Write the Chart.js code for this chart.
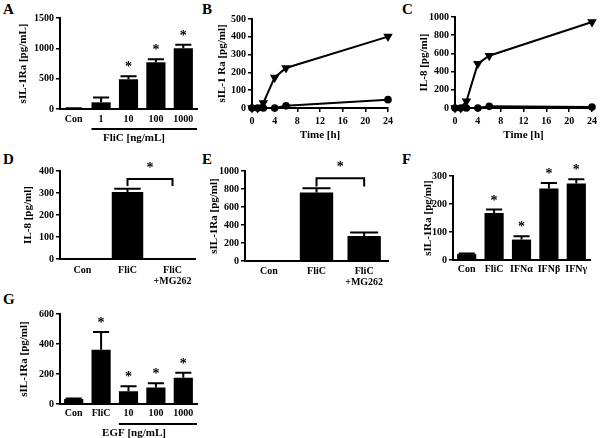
<!DOCTYPE html>
<html>
<head>
<meta charset="utf-8">
<script src="https://cdn.jsdelivr.net/npm/chart.js@4.4.0/dist/chart.umd.min.js"></script>
<style>
    body { margin: 0; background: #fff; }
    #wrap { position: relative; width: 600px; height: 438px; overflow: hidden; }
    #wrap canvas { position: absolute; left: 0; top: 0; }
    .tag { position: absolute; font: bold 15px 'Liberation Serif', serif; line-height: 1; color: #000; }
</style>
</head>
<body>
<div id="wrap">
    <div class="tag" style="left:3px;top:2px">A</div>
    <div class="tag" style="left:202px;top:2px">B</div>
    <div class="tag" style="left:402px;top:2px">C</div>
    <div class="tag" style="left:3px;top:152px">D</div>
    <div class="tag" style="left:202px;top:152px">E</div>
    <div class="tag" style="left:402px;top:152px">F</div>
    <div class="tag" style="left:3px;top:292px">G</div>
    <canvas id="cA" width="600" height="438"></canvas>
    <canvas id="cB" width="600" height="438"></canvas>
    <canvas id="cC" width="600" height="438"></canvas>
    <canvas id="cD" width="600" height="438"></canvas>
    <canvas id="cE" width="600" height="438"></canvas>
    <canvas id="cF" width="600" height="438"></canvas>
    <canvas id="cG" width="600" height="438"></canvas>
</div>
<script>
// Panel A - FliC dose response
const catA = ['Con', '1', '10', '100', '1000'];
const meanA = [10, 110, 490, 770, 1000];
const errA = [3, 80, 50, 50, 60];
const starA = [0, 0, 1, 1, 1];

// Panel B / C - time course
const timeB = [0, 1, 2, 4, 6, 24];
const flicB = [0, 0, 28, 172, 225, 401];
const conB = [0, 0, 0, 0, 12, 47];
const timeC = [0, 1, 2, 4, 6, 24];
const flicC = [0, 0, 75, 487, 575, 945];
const conC = [0, 0, 0, 0, 18, 11];

// Panel D / E - proteasome inhibitor
const catD = ['Con', 'FliC', ['FliC', '+MG262']];
const meanD = [0, 305, 5];
const errD = [0, 14, 0];
const meanE = [0, 760, 278];
const errE = [0, 48, 40];

// Panel F - interferons
const catF = ['Con', 'FliC', 'IFN\u03B1', 'IFN\u03B2', 'IFN\u03B3'];
const meanF = [21, 168, 73, 255, 273];
const errF = [2, 12, 12, 20, 15];
const starF = [0, 1, 1, 1, 1];

// Panel G - EGF
const catG = ['Con', 'FliC', '10', '100', '1000'];
const meanG = [33, 362, 85, 110, 175];
const errG = [3, 118, 33, 28, 33];
const starG = [0, 1, 1, 1, 1];

const FONT = "'Liberation Serif', 'Times New Roman', serif";
const W = 600, H = 438;
const tickFont = { family: FONT, weight: 'bold', size: 10 };
const titleFont = { family: FONT, weight: 'bold', size: 11 };
const HALF_TITLE = 6.6;

function drawStar(ctx, x, capY) {
    ctx.font = 'bold 14px ' + FONT;
    ctx.textAlign = 'center';
    ctx.textBaseline = 'alphabetic';
    ctx.fillText('*', x, capY + 1);
}

// error bars, stars, brackets and group underlines
const marks = {
    id: 'marks',
    afterDatasetsDraw(chart, args, o) {
        const ctx = chart.ctx;
        const y = chart.scales.y;
        const bars = chart.getDatasetMeta(0).data;
        const means = chart.data.datasets[0].data;
        ctx.save();
        ctx.strokeStyle = '#000';
        ctx.fillStyle = '#000';
        ctx.lineWidth = 2;
        (o.err || []).forEach((e, i) => {
            const b = bars[i];
            const top = y.getPixelForValue(means[i] + e);
            if (e > 0) {
                const half = b.width * 0.42;
                ctx.beginPath();
                ctx.moveTo(b.x, b.y);
                ctx.lineTo(b.x, top);
                ctx.moveTo(b.x - half, top);
                ctx.lineTo(b.x + half, top);
                ctx.stroke();
            }
            if (o.stars && o.stars[i]) drawStar(ctx, b.x, top - 6);
        });
        if (o.bracket) {
            const br = o.bracket;
            const x1 = bars[br.from].x, x2 = bars[br.to].x;
            const yb = y.getPixelForValue(br.at), yl = y.getPixelForValue(br.leg);
            ctx.beginPath();
            ctx.moveTo(x1, yl);
            ctx.lineTo(x1, yb);
            ctx.lineTo(x2, yb);
            ctx.lineTo(x2, yl);
            ctx.stroke();
            drawStar(ctx, (x1 + x2) / 2, yb - 8);
        }
        if (o.group) {
            const g = o.group;
            const area = chart.chartArea;
            const b = bars[g.from];
            const ly = area.bottom + 20;
            ctx.beginPath();
            ctx.moveTo(b.x - b.width / 2, ly);
            ctx.lineTo(area.right, ly);
            ctx.stroke();
            ctx.font = 'bold 11px ' + FONT;
            ctx.textAlign = 'center';
            ctx.textBaseline = 'middle';
            ctx.fillText(g.text, area.left + area.width * 0.54, area.bottom + 29);
        }
        ctx.restore();
    }
};

function yAxis(box, yMax, yStep, yTitle) {
    return {
        min: 0,
        max: yMax,
        ticks: { stepSize: yStep, color: '#000', font: tickFont, padding: 2, callback: v => String(v) },
        grid: { drawOnChartArea: false, drawTicks: true, tickLength: 4, color: '#000', lineWidth: 1.5 },
        border: { display: true, color: '#000', width: 2 },
        title: { display: true, text: yTitle, color: '#000', font: titleFont, padding: 0 },
        afterFit: s => { s.width = box.l - (box.titleX - HALF_TITLE); }
    };
}

function barPanel(id, box, cats, means, yMax, yStep, yTitle, markOpts) {
    const xh = 30;
    new Chart(document.getElementById(id), {
        type: 'bar',
        data: {
            labels: cats,
            datasets: [{
                data: means,
                backgroundColor: '#000',
                borderWidth: 0,
                barPercentage: box.bar || 0.7,
                categoryPercentage: 1
            }]
        },
        options: {
            responsive: false,
            animation: false,
            events: [],
            layout: {
                padding: { left: box.titleX - HALF_TITLE, top: box.t, right: W - box.r, bottom: H - box.b - xh }
            },
            plugins: { legend: { display: false }, tooltip: { enabled: false }, marks: markOpts },
            scales: {
                x: {
                    grid: { display: false, drawTicks: false },
                    border: { display: true, color: '#000', width: 2 },
                    ticks: { color: '#000', font: { family: FONT, weight: 'bold', size: 10, lineHeight: 1.1 }, padding: box.labPad, maxRotation: 0, autoSkip: false },
                    afterFit: s => { s.height = xh; }
                },
                y: yAxis(box, yMax, yStep, yTitle)
            }
        },
        plugins: [marks]
    });
}

function linePanel(id, box, times, flic, con, yMax, yStep, yTitle) {
    const xh = 135 + HALF_TITLE - box.b;
    const pts = arr => times.map((t, i) => ({ x: t, y: arr[i] }));
    new Chart(document.getElementById(id), {
        type: 'line',
        data: {
            datasets: [
                { data: pts(flic), borderColor: '#000', backgroundColor: '#000', borderWidth: 2, pointStyle: 'triangle', rotation: 180, pointRadius: 3.5, clip: false },
                { data: pts(con), borderColor: '#000', backgroundColor: '#000', borderWidth: 2, pointStyle: 'circle', pointRadius: 2.8, clip: false }
            ]
        },
        options: {
            responsive: false,
            animation: false,
            events: [],
            layout: {
                padding: { left: box.titleX - HALF_TITLE, top: box.t, right: W - box.r, bottom: H - box.b - xh }
            },
            plugins: { legend: { display: false }, tooltip: { enabled: false } },
            scales: {
                x: {
                    type: 'linear',
                    min: 0,
                    max: 24,
                    ticks: { stepSize: 4, color: '#000', font: tickFont, padding: 3 },
                    grid: { drawOnChartArea: false, drawTicks: true, tickLength: 4, color: '#000', lineWidth: 1.5 },
                    border: { display: true, color: '#000', width: 2 },
                    title: { display: true, text: 'Time [h]', color: '#000', font: titleFont, padding: 0 },
                    afterFit: s => { s.height = xh; }
                },
                y: yAxis(box, yMax, yStep, yTitle)
            }
        }
    });
}

barPanel('cA', { l: 60, r: 197, t: 18, b: 109, titleX: 23, labPad: 5 }, catA, meanA, 1500, 500,
    'sIL-1Ra [pg/mL]', { err: errA, stars: starA, group: { from: 1, text: 'FliC [ng/mL]' } });

linePanel('cB', { l: 252, r: 388, t: 19, b: 108, titleX: 222 }, timeB, flicB, conB, 500, 100, 'sIL-1 Ra [pg/ml]');
linePanel('cC', { l: 455, r: 592, t: 17, b: 108, titleX: 424 }, timeC, flicC, conC, 1000, 200, 'IL-8 [pg/ml]');

barPanel('cD', { l: 60, r: 195, t: 171, b: 259, titleX: 28, labPad: 6 }, catD, meanD, 400, 100,
    'IL-8 [pg/ml]', { err: errD, bracket: { from: 1, to: 2, at: 364, leg: 332 } });

barPanel('cE', { l: 245, r: 388, t: 171, b: 261, titleX: 214, labPad: 5 }, catD, meanE, 1000, 200,
    'sIL-1Ra [pg/ml]', { err: errE, bracket: { from: 1, to: 2, at: 920, leg: 828 } });

barPanel('cF', { l: 453, r: 590, t: 176, b: 260, titleX: 428, labPad: 4 }, catF, meanF, 300, 100,
    'sIL-1Ra [pg/ml]', { err: errF, stars: starF });

barPanel('cG', { l: 60, r: 197, t: 314, b: 404, titleX: 24, labPad: 4 }, catG, meanG, 600, 200,
    'sIL-1Ra [pg/ml]', { err: errG, stars: starG, group: { from: 2, text: 'EGF [ng/mL]' } });
</script>
</body>
</html>
